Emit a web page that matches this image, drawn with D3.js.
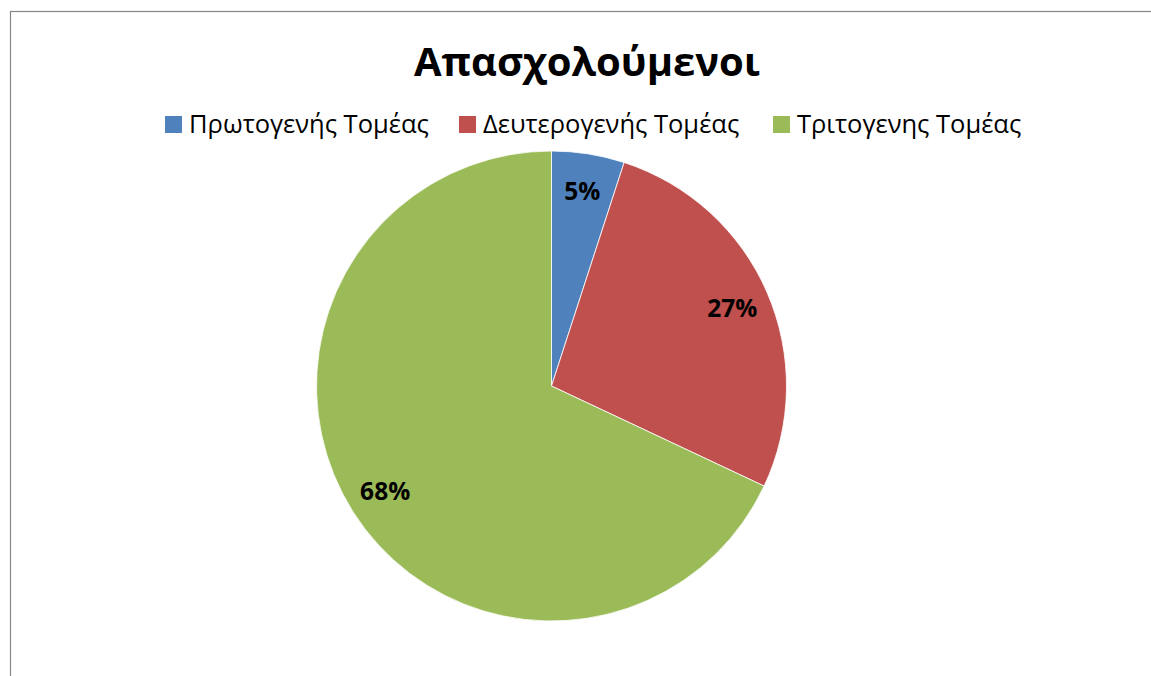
<!DOCTYPE html>
<html>
<head>
<meta charset="utf-8">
<script src="https://cdn.jsdelivr.net/npm/d3@7"></script>
<style>
  body { margin: 0; background: #fff; }
  text { font-family: "Open Sans", "Noto Sans", sans-serif; }
</style>
</head>
<body>
<div id="chart"></div>
<script>
"use strict"

// data
const sectors = ["Πρωτογενής Τομέας", "Δευτερογενής Τομέας", "Τριτογενης Τομέας"];
const shares = [5, 27, 68];
const colors = ["#4F81BD", "#C0504D", "#9BBB59"];
const title = "Απασχολούμενοι";

const width = 1151, height = 676;

const svg = d3.select("#chart").append("svg")
  .attr("width", width)
  .attr("height", height);

// chart area frame (runs off the right / bottom edge)
svg.append("rect")
  .attr("x", 10.5).attr("y", 11.5)
  .attr("width", width + 20).attr("height", height + 20)
  .attr("fill", "none")
  .attr("stroke", "#868686")
  .attr("stroke-width", 1.2);

// title
svg.append("text")
  .attr("x", 587).attr("y", 76)
  .attr("text-anchor", "middle")
  .style("font-size", "40px")
  .style("font-weight", "bold")
  .text(title);

// legend
const legendX = [165, 459, 773];
const legend = svg.append("g").selectAll("g")
  .data(sectors)
  .join("g")
  .attr("transform", (d, i) => "translate(" + legendX[i] + ",116)");
legend.append("rect")
  .attr("width", 17).attr("height", 17)
  .attr("fill", (d, i) => colors[i]);
legend.append("text")
  .attr("x", 24).attr("y", 17)
  .style("font-size", "25.5px")
  .text(d => d);

// pie
const cx = 551.5, cy = 386, r = 235;
const pie = d3.pie().sort(null).value(d => d);
const arc = d3.arc().innerRadius(0).outerRadius(r);
const labelArc = d3.arc().innerRadius(197).outerRadius(197);

const g = svg.append("g").attr("transform", "translate(" + cx + "," + cy + ")");
const arcs = pie(shares);

g.selectAll("path")
  .data(arcs)
  .join("path")
  .attr("d", arc)
  .attr("fill", (d, i) => colors[i])
  .attr("stroke", "#fff")
  .attr("stroke-width", 0.8);

g.selectAll("text")
  .data(arcs)
  .join("text")
  .attr("transform", d => "translate(" + labelArc.centroid(d) + ")")
  .attr("text-anchor", "middle")
  .attr("dy", "0.36em")
  .style("font-size", "24.5px")
  .style("font-weight", "bold")
  .text(d => d.data + "%");
</script>
</body>
</html>
